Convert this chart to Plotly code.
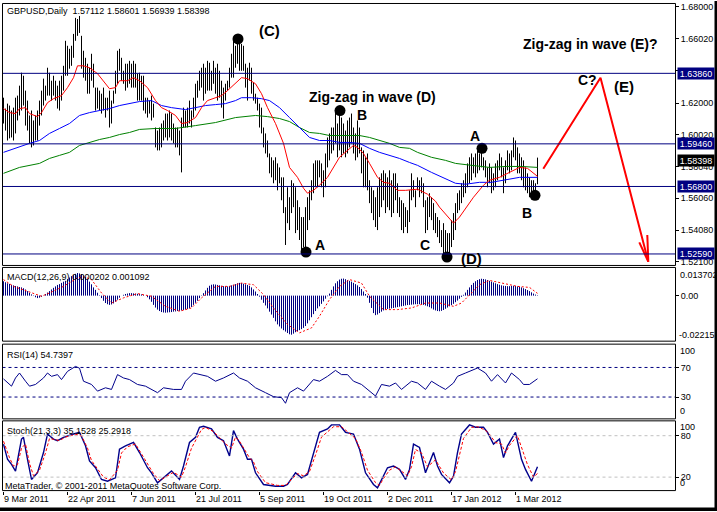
import plotly.graph_objects as go

W, H = 717, 512

# ---------------- DATA ----------------
symbol_title = "GBPUSD,Daily"
last_ohlc = [1.57112, 1.58601, 1.56939, 1.58398]

high = [
1.6234,1.6166,1.6197,1.6185,1.6154,1.6172,1.6234,1.6247,1.6309,1.6390,
1.6371,1.6278,1.6216,1.6123,1.6154,1.6092,1.6123,1.6154,1.6216,1.6278,
1.6353,1.6309,1.6421,1.6390,1.6340,1.6371,1.6340,1.6309,1.6340,1.6371,
1.6433,1.6589,1.6558,1.6539,1.6558,1.6632,1.6732,1.6725,1.6744,1.6620,
1.6527,1.6483,1.6446,1.6421,1.6508,1.6446,1.6297,1.6297,1.6278,1.6259,
1.6297,1.6234,1.6234,1.6278,1.6216,1.6278,1.6402,1.6527,1.6539,1.6483,
1.6402,1.6446,1.6446,1.6464,1.6446,1.6464,1.6446,1.6384,1.6390,1.6371,
1.6371,1.6234,1.6234,1.6216,1.6247,1.6197,1.6048,1.6029,1.6048,1.6073,
1.6092,1.6135,1.6135,1.6154,1.6135,1.6073,1.6048,1.6048,1.6029,1.6110,
1.6172,1.6154,1.6172,1.6216,1.6154,1.6234,1.6321,1.6340,1.6402,1.6421,
1.6446,1.6421,1.6464,1.6452,1.6402,1.6464,1.6421,1.6446,1.6402,1.6340,
1.6297,1.6321,1.6340,1.6421,1.6508,1.6589,1.6558,1.6610,1.6570,1.6570,
1.6558,1.6446,1.6421,1.6452,1.6421,1.6328,1.6259,1.6234,1.6197,1.6172,
1.6048,1.6011,1.5967,1.5886,1.5862,1.5843,1.5862,1.5824,1.5799,1.5737,
1.5737,1.5551,1.5675,1.5613,1.5719,1.5700,1.5675,1.5594,1.5551,1.5489,
1.5489,1.5551,1.5613,1.5656,1.5719,1.5824,1.5843,1.5843,1.5843,1.5824,
1.5781,1.5886,1.5986,1.6011,1.6048,1.6048,1.6154,1.6073,1.6154,1.6110,
1.6073,1.6029,1.6092,1.6110,1.6135,1.6048,1.6011,1.6092,1.6048,1.5924,
1.5905,1.5862,1.5886,1.5719,1.5675,1.5656,1.5613,1.5675,1.5737,1.5762,
1.5781,1.5762,1.5737,1.5781,1.5719,1.5762,1.5762,1.5700,1.5613,1.5594,
1.5576,1.5551,1.5532,1.5656,1.5762,1.5719,1.5656,1.5737,1.5719,1.5737,
1.5700,1.5594,1.5613,1.5638,1.5613,1.5576,1.5514,1.5489,1.5470,1.5408,
1.5451,1.5408,1.5389,1.5389,1.5470,1.5514,1.5576,1.5638,1.5656,1.5700,
1.5719,1.5762,1.5824,1.5862,1.5886,1.5862,1.5886,1.5905,1.5886,1.5918,
1.5862,1.5843,1.5799,1.5824,1.5799,1.5762,1.5824,1.5843,1.5886,1.5862,
1.5799,1.5843,1.5905,1.5886,1.5905,1.5986,1.5967,1.5924,1.5886,1.5862,
1.5843,1.5799,1.5762,1.5737,1.5719,1.5719,1.5700,1.58601]

low = [
1.6073,1.6029,1.5967,1.5980,1.5986,1.5967,1.6011,1.6092,1.6123,1.6154,
1.6185,1.6060,1.6029,1.5949,1.5924,1.5936,1.5967,1.5967,1.6060,1.6123,
1.6185,1.6216,1.6247,1.6247,1.6216,1.6247,1.6216,1.6166,1.6154,1.6216,
1.6278,1.6371,1.6371,1.6415,1.6433,1.6483,1.6589,1.6620,1.6638,1.6415,
1.6359,1.6340,1.6259,1.6259,1.6340,1.6297,1.6154,1.6166,1.6154,1.6135,
1.6154,1.6110,1.6154,1.6048,1.6073,1.6197,1.6259,1.6321,1.6402,1.6340,
1.6321,1.6278,1.6297,1.6321,1.6297,1.6297,1.6297,1.6216,1.6216,1.6216,
1.6154,1.6135,1.6110,1.6135,1.6092,1.6110,1.5924,1.5905,1.5905,1.5924,
1.5967,1.5986,1.5967,1.5986,1.5967,1.5949,1.5924,1.5924,1.5874,1.5768,
1.6048,1.6048,1.6048,1.6073,1.6048,1.6110,1.6154,1.6234,1.6278,1.6297,
1.6216,1.6259,1.6278,1.6278,1.6278,1.6321,1.6259,1.6216,1.6234,1.6172,
1.6104,1.6216,1.6278,1.6297,1.6359,1.6359,1.6421,1.6446,1.6402,1.6402,
1.6402,1.6297,1.6216,1.6340,1.6259,1.6216,1.6197,1.6154,1.6048,1.6011,
1.5924,1.5886,1.5862,1.5762,1.5737,1.5700,1.5719,1.5656,1.5700,1.5594,
1.5514,1.5315,1.5451,1.5408,1.5514,1.5551,1.5389,1.5408,1.5346,1.5265,
1.5302,1.5271,1.5408,1.5470,1.5594,1.5638,1.5675,1.5675,1.5737,1.5675,
1.5613,1.5675,1.5799,1.5843,1.5886,1.5905,1.5949,1.5862,1.5905,1.5862,
1.5886,1.5862,1.5886,1.5924,1.5949,1.5886,1.5843,1.5862,1.5886,1.5762,
1.5675,1.5675,1.5656,1.5576,1.5514,1.5470,1.5427,1.5408,1.5489,1.5551,
1.5594,1.5514,1.5551,1.5532,1.5489,1.5514,1.5594,1.5514,1.5489,1.5408,
1.5389,1.5427,1.5389,1.5458,1.5594,1.5613,1.5551,1.5656,1.5613,1.5638,
1.5551,1.5389,1.5408,1.5489,1.5470,1.5408,1.5389,1.5364,1.5327,1.5302,
1.5265,1.5240,1.5234,1.5265,1.5302,1.5346,1.5408,1.5514,1.5532,1.5576,
1.5613,1.5638,1.5675,1.5700,1.5719,1.5762,1.5737,1.5762,1.5781,1.5799,
1.5781,1.5737,1.5675,1.5700,1.5638,1.5656,1.5675,1.5719,1.5781,1.5737,
1.5638,1.5700,1.5781,1.5762,1.5781,1.5862,1.5843,1.5762,1.5762,1.5719,
1.5675,1.5656,1.5638,1.5613,1.5613,1.5638,1.5613,1.56939]

# moving averages (bar index, price)
ma_red_x = [0,3,6,8,11,13,17,19,22,25,29,32,35,37,40,43,47,50,53,56,58,62,65,68,72,76,79,82,86,89,92,96,99,102,106,109,112,116,119,122,126,129,132,136,140,143,147,150,152,155,158,162,165,168,172,175,177,180,183,187,190,193,197,201,207,212,216,218,225,228,235,240,243,248,253,258,262,265,267]
ma_red_y = [1.6166,1.6141,1.6135,1.6166,1.6172,1.6135,1.6116,1.6141,1.6203,1.6228,1.6247,1.6297,1.6359,1.6433,1.6433,1.6421,1.6384,1.6340,1.6290,1.6297,1.6340,1.6340,1.6359,1.6340,1.6297,1.6216,1.6172,1.6154,1.6123,1.6073,1.6079,1.6110,1.6172,1.6216,1.6234,1.6247,1.6278,1.6321,1.6359,1.6353,1.6321,1.6259,1.6172,1.6073,1.5949,1.5799,1.5737,1.5669,1.5638,1.5656,1.5688,1.5737,1.5799,1.5862,1.5905,1.5936,1.5924,1.5886,1.5824,1.5737,1.5706,1.5700,1.5656,1.5656,1.5663,1.5632,1.5588,1.5551,1.5451,1.5489,1.5613,1.5688,1.5719,1.5737,1.5768,1.5799,1.5793,1.5762,1.5743]

ma_blue_x = [0,7,13,18,23,28,33,38,43,48,53,58,63,68,74,79,84,91,96,101,106,111,116,119,124,129,133,138,143,148,153,158,163,168,173,178,183,188,193,198,203,207,214,221,226,231,238,244,252,258,267]
ma_blue_y = [1.5893,1.5924,1.5949,1.5967,1.6011,1.6042,1.6073,1.6123,1.6141,1.6154,1.6166,1.6185,1.6197,1.6210,1.6216,1.6185,1.6172,1.6160,1.6172,1.6185,1.6191,1.6197,1.6216,1.6234,1.6234,1.6228,1.6216,1.6172,1.6110,1.6048,1.5986,1.5967,1.5967,1.5955,1.5955,1.5949,1.5918,1.5893,1.5874,1.5855,1.5830,1.5812,1.5768,1.5731,1.5700,1.5694,1.5706,1.5706,1.5725,1.5737,1.5737]

ma_green_x = [0,8,18,23,28,33,38,43,48,53,58,63,68,76,86,96,106,116,121,126,132,138,143,148,153,158,163,173,178,183,188,193,198,203,207,214,221,226,234,243,251,259,267]
ma_green_y = [1.5762,1.5799,1.5824,1.5855,1.5874,1.5893,1.5936,1.5955,1.5973,1.5986,1.6004,1.6017,1.6036,1.6042,1.6042,1.6060,1.6079,1.6110,1.6116,1.6123,1.6116,1.6104,1.6085,1.6048,1.6017,1.6011,1.5998,1.5998,1.5998,1.5986,1.5967,1.5949,1.5924,1.5918,1.5893,1.5862,1.5843,1.5824,1.5812,1.5799,1.5805,1.5805,1.5799]

# horizontal levels
levels = [1.6386, 1.5946, 1.5680, 1.5259]
price_ticks = [1.52100, 1.54080, 1.56060, 1.58040, 1.60020, 1.62000, 1.64040, 1.66020, 1.68000]

# MACD(12,26,9) histogram, in units of 1e-4
macd_e4 = [
70,65,60,57,52,50,47,45,42,40,36,30,22,
14,6,-2,-8,-12,-10,-6,0,8,
15,22,30,38,45,52,56,62,68,72,80,88,95,100,106,110,
108,104,98,90,80,68,55,40,28,14,
2,-12,-25,-36,-42,-45,-43,-38,-30,-20,-10,
0,4,8,10,12,12,11,10,9,8,6,3,0,
-8,-18,-30,-45,-58,-68,-75,-80,-82,-83,-82,-81,-80,-78,-77,-75,-74,-72,-70,-68,-65,-60,-55,-45,-35,-25,-12,-2,
12,25,38,48,53,55,54,52,50,48,46,45,45,47,50,53,56,60,62,61,58,55,52,48,40,30,20,
8,-5,-20,-35,-48,-62,-78,-92,-108,-125,-140,-150,-160,-168,-175,-182,-188,-190,-185,-178,
-173,-168,-163,-157,-148,-135,-120,-105,-90,-75,-62,-52,-40,-28,-15,-3,10,
28,45,60,70,78,82,83,80,76,72,68,62,56,50,42,32,20,8,
-10,-35,-60,-85,-95,-92,-85,-78,-72,-68,-65,-63,-62,-60,-58,-56,-54,-52,-50,-48,
-46,-45,-44,-43,-42,-42,-42,-43,-45,-48,-52,-56,-62,-68,-72,-75,-76,-74,-70,-64,
-58,-52,-46,-40,-32,-24,-15,-6,4,
15,28,40,52,62,70,76,80,82,81,79,76,72,68,64,60,56,53,50,48,47,46,46,47,48,47,45,43,40,36,32,27,22,16,10,5,2]
macd_sig_x = [0,5,12,19,23,30,37,40,44,49,54,60,67,74,81,88,94,99,106,113,119,125,130,135,142,148,154,158,163,168,173,179,183,190,197,204,211,218,225,229,234,238,243,250,257,263,267]
macd_sig_e4 = [78,45,21,-3,13,45,86,92,78,13,-36,-11,10,-3,-52,-76,-60,-11,45,45,61,53,5,-60,-140,-181,-157,-100,-19,45,78,61,-3,-68,-68,-60,-36,-36,-52,-36,13,53,74,61,45,40,11]
macd_last = [0.000202, 0.001092]
macd_scale = [-0.02215, 0.013702]

# RSI(14)
rsi_x = [0,2,4,6,8,11,13,16,20,22,24,27,29,32,36,38,40,44,47,51,54,57,60,63,67,71,77,80,85,89,91,95,99,102,106,110,115,118,122,126,131,135,139,141,143,147,150,155,158,162,166,169,172,175,179,182,186,189,193,196,199,204,207,211,214,218,221,225,227,231,235,237,241,244,247,251,254,258,260,263,267]
rsi_y = [54.5,49,44.7,55.8,62.5,51.4,44.7,47,55.8,62.5,58,60.3,53.6,64.7,71.4,69,51.4,47,38,42.5,40.3,60.3,55.8,53.6,47,44.7,35.9,42.5,40.3,40.3,51.4,62.5,60.3,58,51.4,55.8,62.5,55.8,51.4,42.5,35.9,30.5,29.2,21.6,35.9,42.5,38,53.6,51.4,58,66,60.3,60.3,51.4,47,40.3,31.4,47,44.7,49,40.3,51.4,49,40.3,51.4,44.7,40.3,49,58,62.5,67,69.2,62.5,51.4,60.3,49,62.5,53.6,47,47,54.74]
rsi_last = 54.7397

# Stochastic(21,3,3)
st_x = [0,2,4,6,9,10,12,14,17,20,22,25,27,30,35,38,41,43,46,49,52,56,58,61,65,68,72,74,77,81,84,88,90,93,96,98,100,104,107,110,113,115,117,120,122,124,126,130,136,140,142,146,149,152,155,158,162,164,168,171,175,178,181,185,187,189,192,195,198,201,203,205,208,211,215,217,219,223,225,227,229,233,236,240,242,245,248,250,252,255,256,259,261,264,267]
st_main = [67.8,45.8,38.5,28.8,75.1,77.6,45.8,16.6,26.3,55.6,82.4,75.1,72.7,77.6,82.4,84.9,65.4,43.4,33.6,16.6,14.1,19,60.5,65.4,70.2,55.6,33.6,26.3,11.7,21.4,28.8,16.6,36.1,70.2,77.6,92.2,93.7,89.8,77.6,72.7,50.7,87.3,75.1,60.5,45.8,45.8,26.3,9.3,6.8,6.8,9.3,26.3,19,23.9,55.6,84.9,89.8,95.6,95.6,84.9,82.4,60.5,26.3,9.3,4.4,16.6,33.6,36.1,31.2,16.6,31.2,67.8,62.9,26.3,55.6,36.1,23.9,11.7,21.4,55.6,82.4,95.6,92.2,92.2,84.9,67.8,75.1,48.3,65.4,80,84.9,45.8,31.2,14.1,35.15]
st_sx = [0,3,5,7,9,11,13,15,18,21,23,26,28,31,36,39,42,44,47,50,53,57,59,62,66,69,73,75,78,82,85,89,91,94,97,99,101,105,108,111,114,116,118,121,123,125,127,131,137,141,143,147,150,153,156,159,163,165,169,172,176,179,182,186,188,190,193,196,199,202,204,206,209,212,216,218,220,224,226,228,230,234,237,241,243,246,249,251,253,257,260,262,265,267]
st_sig = [72,48,36,38,62,68,40,22,30,55,76,74,73,78,82,80,62,44,32,20,16,30,55,64,68,54,34,25,15,22,27,20,35,62,78,89,92,86,77,68,62,78,72,58,48,42,28,12,8,8,14,25,22,28,52,78,88,93,93,86,76,56,30,12,8,18,30,35,28,22,35,60,55,35,45,36,26,16,28,52,76,92,93,88,82,70,68,55,66,80,55,38,20,25.29]
st_last = [35.1528, 25.2918]

# date axis
date_idx = [0, 32, 64, 96, 128, 160, 192, 224, 256]
date_labels = ["9 Mar 2011", "22 Apr 2011", "7 Jun 2011", "21 Jul 2011", "5 Sep 2011",
               "19 Oct 2011", "2 Dec 2011", "17 Jan 2012", "1 Mar 2012"]

# Elliott wave markers (bar index, price)
dot_x = [117.25, 151.25, 168.25, 221.75, 239.25, 265.75]
dot_y = [1.6601, 1.5271, 1.6154, 1.5240, 1.5918, 1.5625]
wave_text = ["(C)", "A", "B", "C", "(D)", "A", "B", "C?", "(E)"]
wave_tx = [133.0, 158.0, 179.25, 210.75, 233.75, 235.5, 261.75, 291.75, 310.25]
wave_ty = [1.6651, 1.5312, 1.6123, 1.5315, 1.5228, 1.5992, 1.5517, 1.6346, 1.6303]
notes = ["Zig-zag in wave (D)", "Zig-zag in wave (E)?"]
notes_x = [184.25, 259.25]
notes_y = [1.6241, 1.6570]
proj_x = [269.9, 298.5, 322.4]
proj_y = [1.5791, 1.6359, 1.5211]
arrow_x = [317.9, 322.4, 321.9]
arrow_y = [1.5331, 1.5211, 1.5377]

# ---------------- LAYOUT GEOMETRY ----------------
XL, XR = 2.5, 675.5          # frame lines
DX0, DX1 = 3.0, 675.0        # axis domain in px (bar i at 3.5 + 2 i)
panels = {"main": (2.5, 265.5), "macd": (267.5, 341.5), "rsi": (344.5, 419.5), "st": (421.5, 491.5)}
def fx(px): return px / W
def fy(py): return 1 - py / H

FONT = "Liberation Sans, Arial, sans-serif"
NAVY = "#000080"

fig = go.Figure()

# OHLC bars as high-low strokes
bx, by = [], []
for i, (h, l) in enumerate(zip(high, low)):
    bx += [i, i, None]
    by += [l, h, None]
fig.add_trace(go.Scatter(x=bx, y=by, mode="lines", line=dict(color="black", width=1),
                         hoverinfo="skip", xaxis="x", yaxis="y"))
fig.add_trace(go.Scatter(x=ma_green_x, y=ma_green_y, mode="lines", line=dict(color="#008000", width=1), xaxis="x", yaxis="y"))
fig.add_trace(go.Scatter(x=ma_blue_x, y=ma_blue_y, mode="lines", line=dict(color="#0000ff", width=1), xaxis="x", yaxis="y"))
fig.add_trace(go.Scatter(x=ma_red_x, y=ma_red_y, mode="lines", line=dict(color="#ff0000", width=1), xaxis="x", yaxis="y"))
fig.add_trace(go.Scatter(x=dot_x, y=dot_y, mode="markers", marker=dict(color="black", size=11), xaxis="x", yaxis="y"))
fig.add_trace(go.Scatter(x=proj_x, y=proj_y, mode="lines", line=dict(color="#ff0000", width=2), xaxis="x", yaxis="y"))
fig.add_trace(go.Scatter(x=[arrow_x[0], arrow_x[1], None, arrow_x[2], arrow_x[1]],
                         y=[arrow_y[0], arrow_y[1], None, arrow_y[2], arrow_y[1]],
                         mode="lines", line=dict(color="#ff0000", width=2), xaxis="x", yaxis="y"))

# MACD histogram as 1px strokes from zero
hx, hy = [], []
for i, v in enumerate(macd_e4):
    hx += [i, i, None]
    hy += [0.0, v * 1e-4, None]
fig.add_trace(go.Scatter(x=hx, y=hy, mode="lines", line=dict(color=NAVY, width=1), xaxis="x2", yaxis="y2"))
fig.add_trace(go.Scatter(x=macd_sig_x, y=[v * 1e-4 for v in macd_sig_e4], mode="lines",
                         line=dict(color="#ff0000", width=1, dash="2px,2px"), xaxis="x2", yaxis="y2"))
# RSI
fig.add_trace(go.Scatter(x=rsi_x, y=rsi_y, mode="lines", line=dict(color="#00008b", width=1), xaxis="x3", yaxis="y3"))
# Stochastic
fig.add_trace(go.Scatter(x=st_x, y=st_main, mode="lines", line=dict(color="#00008b", width=1.4), xaxis="x4", yaxis="y4"))
fig.add_trace(go.Scatter(x=st_sx, y=st_sig, mode="lines", line=dict(color="#ff0000", width=1, dash="3px,2px"), xaxis="x4", yaxis="y4"))

xr = [-0.25, 335.75]
xdom = [fx(DX0), fx(DX1)]
def ydom(k):
    t, b = panels[k]
    return [fy(b), fy(t)]

tf = dict(family=FONT, size=9, color="black")
common_x = dict(range=xr, domain=xdom, showgrid=False, zeroline=False, showline=False, fixedrange=True)
common_y = dict(side="right", showgrid=False, zeroline=False, showline=False, ticks="outside",
                ticklen=3, tickcolor="black", tickwidth=1, tickfont=tf, fixedrange=True)

layout = dict(
    width=W, height=H, margin=dict(l=0, r=0, t=0, b=0),
    paper_bgcolor="white", plot_bgcolor="white", showlegend=False, hovermode=False,
    xaxis=dict(**common_x, anchor="y", showticklabels=False, ticks=""),
    xaxis2=dict(**common_x, anchor="y2", showticklabels=False, ticks=""),
    xaxis3=dict(**common_x, anchor="y3", showticklabels=False, ticks=""),
    xaxis4=dict(**common_x, anchor="y4", tickvals=date_idx, ticktext=date_labels, ticks="outside",
                ticklen=3, tickcolor="black", tickfont=tf, ticklabelposition="outside right"),
    yaxis=dict(**common_y, anchor="x", domain=ydom("main"), range=[1.51872, 1.68218],
               tickvals=price_ticks, ticktext=["%.5f" % v for v in price_ticks]),
    yaxis2=dict(**common_y, anchor="x2", domain=ydom("macd"), range=macd_scale,
                tickvals=[0], ticktext=["0.00"]),
    yaxis3=dict(**common_y, anchor="x3", domain=ydom("rsi"), range=[0.5, 101.5],
                tickvals=[70, 30], ticktext=["70", "30"]),
    yaxis4=dict(**common_y, anchor="x4", domain=ydom("st"), range=[0.5, 101.5],
                tickvals=[80, 20], ticktext=["80", "20"]),
)
fig.update_layout(**layout)

shapes = []
for lv in levels:
    shapes.append(dict(type="line", xref="paper", yref="y", x0=fx(XL), x1=fx(XR), y0=lv, y1=lv,
                       line=dict(color=NAVY, width=1)))
for lv in (70, 30):
    shapes.append(dict(type="line", xref="paper", yref="y3", x0=fx(XL), x1=fx(XR), y0=lv, y1=lv,
                       line=dict(color=NAVY, width=1, dash="3px,3px")))
for lv in (80, 20):
    shapes.append(dict(type="line", xref="paper", yref="y4", x0=fx(XL), x1=fx(XR), y0=lv, y1=lv,
                       line=dict(color="#c0c0c0", width=1, dash="3px,3px")))
for k, (t, b) in panels.items():
    shapes.append(dict(type="rect", xref="paper", yref="paper", x0=fx(XL), x1=fx(XR), y0=fy(b), y1=fy(t),
                       line=dict(color="black", width=1), fillcolor="rgba(0,0,0,0)"))
# window border (right / bottom)
shapes.append(dict(type="rect", xref="paper", yref="paper", x0=fx(714.5), x1=1.0, y0=0, y1=1,
                   line=dict(width=0), fillcolor="black"))
shapes.append(dict(type="rect", xref="paper", yref="paper", x0=0, x1=1.0, y0=0, y1=fy(508.5),
                   line=dict(width=0), fillcolor="black"))
fig.update_layout(shapes=shapes)

ann = []
def txt(x, y, s, xref="paper", yref="paper", size=9, bold=False, color="black", bg=None,
        xanchor="left", yanchor="middle", width=None, height=None):
    d = dict(x=x, y=y, xref=xref, yref=yref, text=s, showarrow=False, xanchor=xanchor, yanchor=yanchor,
             font=dict(family=FONT, size=size, color=color, weight="bold" if bold else "normal"),
             borderpad=0)
    if bg:
        d["bgcolor"] = bg
    if width:
        d["width"] = width
    if height:
        d["height"] = height
    ann.append(d)

txt(fx(6), fy(10), "%s  %.5f %.5f %.5f %.5f" % (symbol_title, *last_ohlc))
txt(fx(6), fy(277), "MACD(12,26,9) %.6f %.6f" % tuple(macd_last))
txt(fx(6), fy(355), "RSI(14) %.4f" % rsi_last)
txt(fx(6), fy(432), "Stoch(21,3,3) %.4f %.4f" % tuple(st_last))
txt(fx(3.5), fy(487), "MetaTrader, © 2001-2011 MetaQuotes Software Corp.")

# side scale labels
txt(fx(678.5), fy(275), "%.6f" % macd_scale[1])
txt(fx(678), fy(335.5), "%.5f" % macd_scale[0])
txt(fx(679), fy(351.5), "100")
txt(fx(679), fy(412), "0")
txt(fx(679), fy(428), "100")
txt(fx(679), fy(484), "0")

# price level tags
for lv in levels:
    txt(fx(677), lv, "%.5f" % lv, yref="y", color="white", bg=NAVY, width=36, height=11)
txt(fx(677), last_ohlc[3], "%.5f" % last_ohlc[3], yref="y", color="white", bg="black", width=36, height=11)

# wave labels
for s, x, y in zip(wave_text, wave_tx, wave_ty):
    txt(x, y, s, xref="x", yref="y", size=15 if s.startswith("(") else 14, bold=True, xanchor="center")
for s, x, y in zip(notes, notes_x, notes_y):
    txt(x, y, s, xref="x", yref="y", size=14, bold=True, xanchor="center" if s.endswith(")") else "left")

fig.update_layout(annotations=ann)
fig.write_html("out.html", config={"displayModeBar": False, "staticPlot": True},
               post_script="document.body.style.margin='0';document.body.style.padding='0';"
                           "document.documentElement.style.overflow='hidden';")
